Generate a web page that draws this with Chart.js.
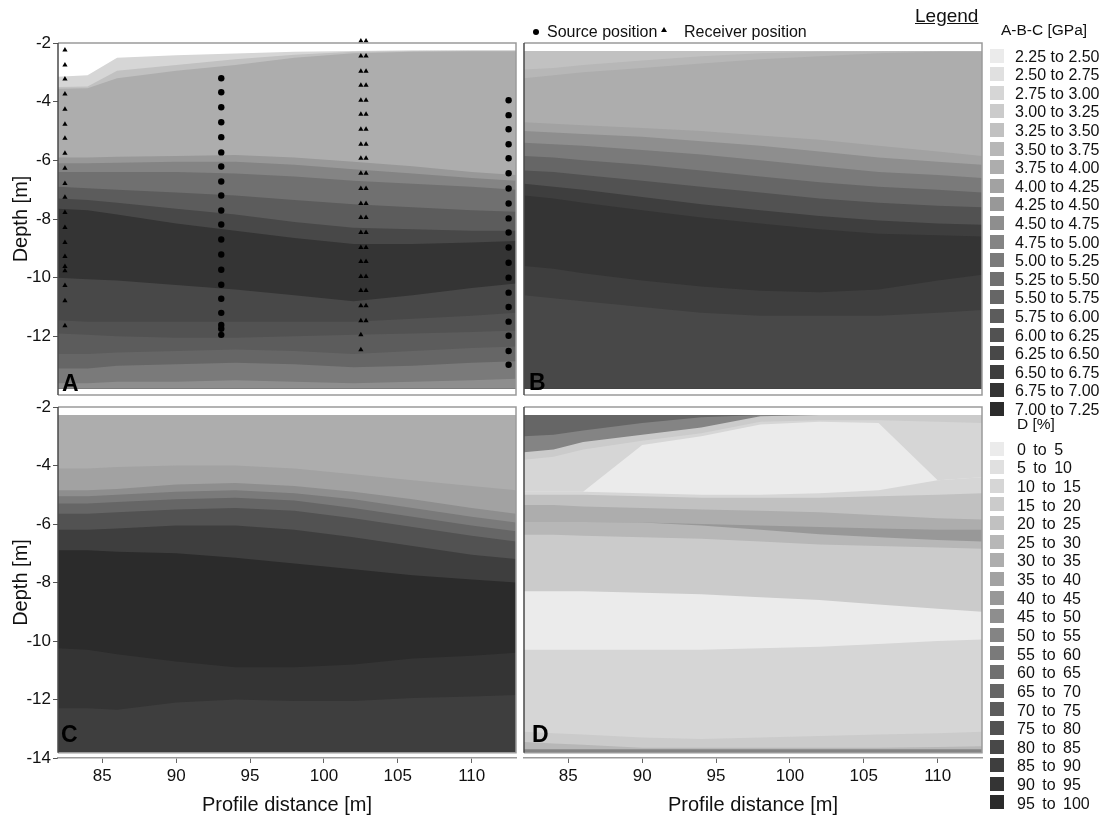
<!DOCTYPE html>
<html><head><meta charset="utf-8">
<script src="https://cdn.jsdelivr.net/npm/chart.js@4.4.1/dist/chart.umd.min.js"></script>
<style>
html,body{margin:0;padding:0;background:#fff}
body{width:1105px;height:818px;position:relative;overflow:hidden;font-family:"Liberation Sans",Arial,sans-serif;color:#111}
canvas{position:absolute}
</style></head><body>
<canvas id="cA" width="522" height="400" style="left:0;top:0"></canvas>
<canvas id="cB" width="470" height="400" style="left:520px;top:0"></canvas>
<canvas id="cC" width="522" height="418" style="left:0;top:400px"></canvas>
<canvas id="cD" width="470" height="418" style="left:520px;top:400px"></canvas>
<script>
// ---------- data ----------
const greys = ['#ebebeb','#e0e0e0','#d6d6d6','#cbcbcb','#c1c1c1','#b7b7b7','#adadad','#a2a2a2','#989898','#8e8e8e',
               '#848484','#7a7a7a','#707070','#666666','#5c5c5c','#525252','#484848','#3e3e3e','#343434','#2b2b2b'];
const abcLabels = ['2.25 to 2.50','2.50 to 2.75','2.75 to 3.00','3.00 to 3.25','3.25 to 3.50','3.50 to 3.75','3.75 to 4.00',
  '4.00 to 4.25','4.25 to 4.50','4.50 to 4.75','4.75 to 5.00','5.00 to 5.25','5.25 to 5.50','5.50 to 5.75','5.75 to 6.00',
  '6.00 to 6.25','6.25 to 6.50','6.50 to 6.75','6.75 to 7.00','7.00 to 7.25'];
const dLabels = ['0 to 5','5 to 10','10 to 15','15 to 20','20 to 25','25 to 30','30 to 35','35 to 40','40 to 45','45 to 50',
  '50 to 55','55 to 60','60 to 65','65 to 70','70 to 75','75 to 80','80 to 85','85 to 90','90 to 95','95 to 100'];
const xTicks = [85, 90, 95, 100, 105, 110];
const yTicksA = [-2, -4, -6, -8, -10, -12];
const yTicksC = [-2, -4, -6, -8, -10, -12, -14];

// sample positions (profile distance) of the band boundaries
const xs = [82, 84, 86, 90, 94, 98, 102, 106, 110, 113];

// Panel A: top boundary (depth) of each band and its colour class
const boundsA = [
  [-3.15,-3.1,-2.5,-2.42,-2.36,-2.3,-2.27,-2.25,-2.25,-2.25],
  [-3.5,-3.48,-2.95,-2.75,-2.55,-2.4,-2.3,-2.27,-2.26,-2.26],
  [-3.56,-3.54,-3.2,-2.95,-2.75,-2.5,-2.35,-2.3,-2.28,-2.28],
  [-5.9,-5.9,-5.88,-5.85,-5.82,-5.9,-6.05,-6.2,-6.4,-6.5],
  [-6.1,-6.1,-6.08,-6.05,-6.05,-6.15,-6.3,-6.45,-6.6,-6.7],
  [-6.4,-6.4,-6.4,-6.4,-6.45,-6.55,-6.7,-6.8,-6.9,-7.0],
  [-6.9,-6.95,-7.0,-7.1,-7.2,-7.35,-7.5,-7.6,-7.7,-7.75],
  [-7.3,-7.35,-7.45,-7.65,-7.85,-8.1,-8.3,-8.35,-8.4,-8.4],
  [-7.65,-7.7,-7.85,-8.15,-8.4,-8.65,-8.85,-8.85,-8.8,-8.75],
  [-10.0,-10.05,-10.1,-10.25,-10.4,-10.6,-10.8,-10.6,-10.35,-10.2],
  [-11.45,-11.5,-11.5,-11.5,-11.5,-11.5,-11.5,-11.4,-11.3,-11.2],
  [-11.9,-11.95,-12.0,-12.05,-12.05,-12.0,-11.95,-11.9,-11.85,-11.8],
  [-12.6,-12.6,-12.55,-12.5,-12.45,-12.5,-12.6,-12.5,-12.4,-12.35],
  [-13.1,-13.1,-13.0,-12.95,-12.9,-12.95,-13.05,-13.0,-12.9,-12.85],
  [-13.6,-13.6,-13.55,-13.55,-13.5,-13.55,-13.6,-13.55,-13.5,-13.45]
];
const levelsA = [2,4,6,8,10,12,14,16,18,16,15,14,13,11,9];

// Panel B
const boundsB = [
  [-2.27,-2.27,-2.27,-2.27,-2.27,-2.27,-2.27,-2.27,-2.27,-2.27],
  [-2.9,-2.85,-2.75,-2.6,-2.45,-2.35,-2.3,-2.29,-2.28,-2.28],
  [-3.2,-3.1,-3.0,-2.85,-2.7,-2.55,-2.45,-2.35,-2.3,-2.3],
  [-4.7,-4.75,-4.8,-4.9,-5.0,-5.15,-5.3,-5.5,-5.7,-5.85],
  [-5.0,-5.05,-5.1,-5.2,-5.35,-5.5,-5.7,-5.9,-6.05,-6.15],
  [-5.4,-5.45,-5.5,-5.65,-5.8,-6.0,-6.2,-6.4,-6.5,-6.6],
  [-5.85,-5.9,-6.0,-6.15,-6.35,-6.55,-6.75,-6.9,-7.0,-7.1],
  [-6.35,-6.4,-6.5,-6.7,-6.9,-7.1,-7.3,-7.45,-7.55,-7.6],
  [-6.8,-6.9,-7.0,-7.25,-7.5,-7.7,-7.9,-8.05,-8.15,-8.2],
  [-7.2,-7.3,-7.45,-7.7,-7.95,-8.15,-8.35,-8.5,-8.55,-8.6],
  [-9.6,-9.7,-9.85,-10.1,-10.3,-10.45,-10.5,-10.4,-10.1,-9.9],
  [-10.6,-10.7,-10.8,-11.0,-11.2,-11.3,-11.3,-11.3,-11.2,-11.1]
];
const levelsB = [4,5,6,7,9,11,13,15,17,18,17,16];

// Panel C
const boundsC = [
  [-2.27,-2.27,-2.27,-2.27,-2.27,-2.27,-2.27,-2.27,-2.27,-2.27],
  [-4.1,-4.1,-4.05,-4.0,-4.0,-4.1,-4.3,-4.5,-4.7,-4.85],
  [-4.85,-4.85,-4.8,-4.65,-4.6,-4.7,-4.9,-5.15,-5.45,-5.65],
  [-5.05,-5.05,-5.0,-4.9,-4.85,-4.95,-5.15,-5.45,-5.75,-5.95],
  [-5.3,-5.3,-5.25,-5.15,-5.1,-5.2,-5.45,-5.75,-6.05,-6.25],
  [-5.65,-5.65,-5.6,-5.5,-5.45,-5.55,-5.8,-6.1,-6.4,-6.6],
  [-6.2,-6.2,-6.15,-6.05,-6.05,-6.2,-6.45,-6.75,-7.05,-7.2],
  [-6.9,-6.9,-6.95,-7.0,-7.15,-7.35,-7.55,-7.75,-7.9,-8.0],
  [-10.25,-10.3,-10.45,-10.7,-10.9,-10.9,-10.8,-10.6,-10.5,-10.4],
  [-12.3,-12.3,-12.35,-12.1,-12.0,-12.05,-12.05,-11.95,-11.9,-11.85]
];
const levelsC = [6,7,9,11,13,15,17,19,18,17];

// Panel D
const boundsD = [
  [-2.27,-2.27,-2.27,-2.27,-2.27,-2.27,-2.27,-2.27,-2.27,-2.27],
  [-3.0,-2.95,-2.8,-2.55,-2.35,-2.27,-2.27,-2.27,-2.27,-2.27],
  [-3.55,-3.45,-3.2,-2.95,-2.7,-2.32,-2.27,-2.27,-2.27,-2.27],
  [-3.8,-3.7,-3.45,-3.15,-2.9,-2.5,-2.45,-2.45,-2.5,-2.55],
  [-4.9,-4.9,-4.9,-3.3,-3.0,-2.6,-2.5,-2.55,-4.5,-4.4],
  [-4.9,-4.9,-4.9,-4.95,-5.0,-5.0,-4.95,-4.85,-4.5,-4.4],
  [-5.0,-5.0,-5.0,-5.05,-5.1,-5.1,-5.1,-5.05,-5.0,-4.95],
  [-5.35,-5.35,-5.4,-5.45,-5.5,-5.55,-5.6,-5.7,-5.8,-5.85],
  [-5.93,-5.93,-5.93,-5.95,-6.0,-6.05,-6.1,-6.15,-6.2,-6.2],
  [-5.93,-5.93,-5.93,-5.95,-6.05,-6.2,-6.35,-6.45,-6.55,-6.6],
  [-6.37,-6.37,-6.4,-6.45,-6.5,-6.6,-6.7,-6.75,-6.8,-6.85],
  [-8.3,-8.3,-8.3,-8.35,-8.4,-8.5,-8.6,-8.75,-8.9,-9.0],
  [-10.3,-10.3,-10.3,-10.3,-10.3,-10.25,-10.2,-10.1,-10.0,-9.95],
  [-13.1,-13.15,-13.2,-13.3,-13.35,-13.3,-13.25,-13.2,-13.15,-13.1],
  [-13.45,-13.5,-13.55,-13.65,-13.65,-13.65,-13.65,-13.65,-13.62,-13.6],
  [-13.7,-13.7,-13.7,-13.7,-13.7,-13.7,-13.7,-13.7,-13.7,-13.7]
];
const levelsD = [13,10,3,2,0,2,4,6,8,5,3,0,2,3,5,10];

// Source / receiver positions in panel A
const srcX1 = 93.05;
const srcDepth1 = [-3.2,-3.68,-4.19,-4.7,-5.21,-5.73,-6.21,-6.72,-7.2,-7.71,-8.19,-8.7,-9.21,-9.73,-10.24,-10.72,-11.2,-11.61,-11.74,-11.95];
const srcX2 = 112.5;
const srcDepth2 = [-3.95,-4.46,-4.94,-5.45,-5.93,-6.44,-6.96,-7.47,-7.98,-8.46,-8.97,-9.49,-10.0,-10.51,-11.0,-11.5,-11.98,-12.5,-12.97];
const recX1 = 82.47;
const recDepth1 = [-1.25,-1.76,-2.24,-2.75,-3.23,-3.74,-4.26,-4.77,-5.25,-5.76,-6.27,-6.79,-7.26,-7.78,-8.29,-8.8,-9.28,-9.62,-9.76,-10.27,-10.79,-11.64];
const recX2a = 102.5;
const recDepth2a = [-1.93,-2.44,-2.96,-3.44,-3.95,-4.43,-4.94,-5.45,-5.93,-6.44,-6.96,-7.47,-7.95,-8.46,-8.97,-9.45,-9.96,-10.44,-10.96,-11.47,-11.95,-12.46];
const recX2b = 102.85;
const recDepth2b = [-1.42,-1.93,-2.44,-2.96,-3.44,-3.95,-4.43,-4.94,-5.45,-5.93,-6.44,-6.96,-7.47,-7.95,-8.46,-8.97,-9.45,-9.96,-10.44,-10.96,-11.47];

// ---------- chart helpers ----------
Chart.defaults.font.family = '"Liberation Sans", Arial, sans-serif';
Chart.defaults.color = '#111';

function bandSets(bounds, levels, bottom) {
  return bounds.map((b, k) => ({
    type: 'line',
    data: xs.map((x, i) => ({x: x, y: b[i]})),
    fill: {value: bottom},
    backgroundColor: greys[levels[k]],
    borderColor: 'rgba(0,0,0,0)',
    borderWidth: 0,
    pointRadius: 0,
    tension: 0,
    order: 100 - k
  }));
}
function markerSet(x, depths, style, r) {
  return {
    type: 'line', showLine: false, clip: false,
    data: depths.map(d => ({x: x, y: d})),
    pointStyle: style, pointRadius: r, pointBackgroundColor: '#000', pointBorderWidth: 0,
    borderColor: '#000', order: 0
  };
}
const framePlugin = {
  id: 'frame',
  afterDatasetsDraw(chart, args, opts) {
    const {ctx, chartArea: a} = chart;
    const yb = chart.scales.y.getPixelForValue(opts.bottom);
    ctx.save();
    ctx.lineWidth = 1.5;
    ctx.strokeStyle = '#9a9a9a';
    ctx.beginPath();
    ctx.moveTo(a.left, a.top); ctx.lineTo(a.right, a.top); ctx.lineTo(a.right, yb); ctx.lineTo(a.left, yb);
    ctx.stroke();
    ctx.strokeStyle = '#4a4a4a';
    ctx.beginPath(); ctx.moveTo(a.left, a.top); ctx.lineTo(a.left, yb); ctx.stroke();
    ctx.restore();
  }
};
function makePanel(id, cfg) {
  const datasets = bandSets(cfg.bounds, cfg.levels, cfg.dataBottom).concat(cfg.markers || []);
  new Chart(document.getElementById(id), {
    type: 'line',
    data: {datasets},
    options: {
      responsive: false, animation: false, events: [],
      layout: {padding: cfg.padding},
      plugins: {legend: {display: false}, tooltip: {enabled: false}, frame: {bottom: cfg.frameBottom}},
      scales: {
        x: {
          type: 'linear', min: 82, max: 113, display: cfg.showX,
          afterBuildTicks: s => { s.ticks = xTicks.map(v => ({value: v})); },
          afterFit: s => { s.height = cfg.showX ? 60 : 0; s.paddingLeft = 0; s.paddingRight = 0; },
          ticks: {font: {size: 17}, color: '#111', padding: 3, maxRotation: 0, autoSkip: false},
          grid: {drawOnChartArea: false, drawTicks: true, tickLength: 5, color: '#666'},
          border: {display: true, color: '#9a9a9a', width: 1.5},
          title: {display: true, text: 'Profile distance [m]', font: {size: 20}, color: '#111', padding: {top: 0, bottom: 1}}
        },
        y: {
          type: 'linear', min: -14, max: -2, display: cfg.showY,
          afterBuildTicks: s => { s.ticks = cfg.yTicks.map(v => ({value: v})); },
          afterFit: s => { s.width = cfg.showY ? 58 : 0; s.paddingTop = 0; s.paddingBottom = 0; },
          ticks: {font: {size: 17}, color: '#111', padding: 2, autoSkip: false, callback: v => String(v)},
          grid: {drawOnChartArea: false, drawTicks: true, tickLength: 5, color: '#555'},
          border: {display: false},
          title: {display: true, text: 'Depth [m]', font: {size: 20}, color: '#111', padding: {top: 9, bottom: 0}}
        }
      }
    },
    plugins: [framePlugin]
  });
}

makePanel('cA', {bounds: boundsA, levels: levelsA, dataBottom: -13.78, frameBottom: -14, showX: false, showY: true,
  yTicks: yTicksA, padding: {left: 0, top: 43, right: 6, bottom: 5},
  markers: [markerSet(recX1, recDepth1, 'triangle', 3), markerSet(recX2a, recDepth2a, 'triangle', 3),
            markerSet(recX2b, recDepth2b, 'triangle', 3), markerSet(srcX1, srcDepth1, 'circle', 3.2),
            markerSet(srcX2, srcDepth2, 'circle', 3.2)]});
makePanel('cB', {bounds: boundsB, levels: levelsB, dataBottom: -13.78, frameBottom: -14, showX: false, showY: false,
  yTicks: yTicksA, padding: {left: 4, top: 43, right: 8, bottom: 5}});
makePanel('cC', {bounds: boundsC, levels: levelsC, dataBottom: -13.82, frameBottom: -13.82, showX: true, showY: true,
  yTicks: yTicksC, padding: {left: 0, top: 7, right: 6, bottom: 0}});
makePanel('cD', {bounds: boundsD, levels: levelsD, dataBottom: -13.82, frameBottom: -13.82, showX: true, showY: false,
  yTicks: yTicksC, padding: {left: 4, top: 7, right: 8, bottom: 0}});

// ---------- text & legends ----------
function addText(txt, left, baseline, size, css) {
  const d = document.createElement('div');
  d.textContent = txt;
  d.style.cssText = 'position:absolute;white-space:pre;left:' + left + 'px;top:' + (baseline - 0.8465 * size) +
    'px;font-size:' + size + 'px;line-height:' + size + 'px;' + (css || '');
  document.body.appendChild(d);
}
function addBox(left, top, w, h, css) {
  const d = document.createElement('div');
  d.style.cssText = 'position:absolute;left:' + left + 'px;top:' + top + 'px;width:' + w + 'px;height:' + h + 'px;' + css;
  document.body.appendChild(d);
}
addText('A', 62, 391, 23, 'font-weight:bold;color:#000');
addText('B', 529, 390, 23, 'font-weight:bold;color:#000');
addText('C', 61, 742, 23, 'font-weight:bold;color:#000');
addText('D', 532, 742, 23, 'font-weight:bold;color:#000');

addBox(532.8, 28.8, 6.4, 6.4, 'background:#000;border-radius:50%');
addText('Source position', 547, 38, 16);
addBox(661, 27, 0, 0, 'border-left:3px solid transparent;border-right:3px solid transparent;border-bottom:5px solid #000');
addText('Receiver position', 684, 38, 16);

addText('Legend', 915, 22, 19, 'text-decoration:underline');
addText('A-B-C [GPa]', 1001, 35.5, 15.5);
abcLabels.forEach((t, i) => {
  const c = 55.5 + 18.6 * i;
  addBox(990, c - 7, 14, 14, 'background:' + greys[i]);
  addText(t, 1015, c + 1 + 0.358 * 16, 16);
});
addText('D [%]', 1017, 429.5, 15.5);
dLabels.forEach((t, i) => {
  const c = 448.5 + 18.63 * i;
  addBox(990, c - 7, 14, 14, 'background:' + greys[i]);
  addText(t, 1017, c + 1 + 0.358 * 16, 16, 'word-spacing:3px');
});
</script>
</body></html>
